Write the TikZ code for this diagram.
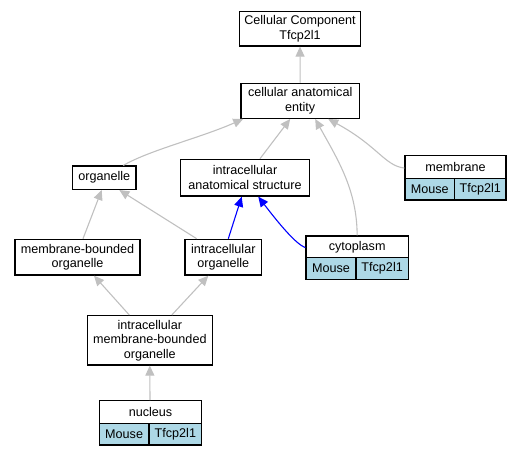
\documentclass[tikz,border=0pt]{standalone}
\usepackage{fontspec}
\setmainfont{Liberation Sans}
\usetikzlibrary{arrows.meta}
\definecolor{edgegray}{HTML}{C0C0C0}
\definecolor{cellblue}{HTML}{ADD8E6}
\tikzset{
  box/.style={draw=black, line width=1.3pt, fill=white, inner sep=0pt, align=center,
    font=\fontsize{12.6}{14.5}\selectfont},
  cell/.style={box, fill=cellblue},
  isa/.style={draw=edgegray, line width=1.1pt, -{Triangle[length=10pt,width=9pt]}},
  partof/.style={draw=blue, line width=1.1pt, -{Triangle[length=10pt,width=9pt]}},
}
\begin{document}
\begin{tikzpicture}[x=1pt,y=-1pt]
\useasboundingbox (0,0) rectangle (523,456);
% nodes
\node[box, minimum width=121.4pt, minimum height=34.3pt] (cc) at (300,28.8) {Cellular Component\\Tfcp2l1};
\node[box, minimum width=118.3pt, minimum height=35pt] (cae) at (300.2,100.8) {cellular anatomical\\entity};
\node[box, minimum width=63.3pt, minimum height=23.3pt] (org) at (104.3,177.7) {organelle};
\node[box, minimum width=128.6pt, minimum height=36.7pt] (ias) at (245,177.7) {intracellular\\anatomical structure};
\node[box, minimum width=125pt, minimum height=35.7pt] (mbo) at (77.5,257.2) {membrane-bounded\\organelle};
\node[box, minimum width=76.7pt, minimum height=35.7pt] (io) at (223.3,257.2) {intracellular\\organelle};
\node[box, minimum width=125pt, minimum height=49.3pt] (imbo) at (149.8,340.3) {intracellular\\membrane-bounded\\organelle};
% membrane table
\node[box, minimum width=101pt, minimum height=22.5pt] (mem) at (455.5,167) {membrane};
\node[cell, minimum width=49.5pt, minimum height=21.7pt] (memA) at (429.75,189.1) {Mouse};
\node[cell, minimum width=51.5pt, minimum height=21.7pt] (memB) at (480.25,189.1) {Tfcp2l1};
% cytoplasm table
\node[box, minimum width=102.3pt, minimum height=21.7pt] (cyt) at (357.15,246.85) {cytoplasm};
\node[cell, minimum width=50pt, minimum height=21.6pt] (cytA) at (331,268.5) {Mouse};
\node[cell, minimum width=52.3pt, minimum height=21.6pt] (cytB) at (382.15,268.5) {Tfcp2l1};
% nucleus table
\node[box, minimum width=102.4pt, minimum height=22.6pt] (nuc) at (150.5,412) {nucleus};
\node[cell, minimum width=49.7pt, minimum height=21.7pt] (nucA) at (124.15,434.15) {Mouse};
\node[cell, minimum width=52.7pt, minimum height=21.7pt] (nucB) at (175.35,434.15) {Tfcp2l1};
% edges
\draw[isa] (cae.north) -- (cc.south);
\draw[isa] ([xshift=19pt]org.north) .. controls (150,150) and (200,138) .. ([xshift=-57pt]cae.south);
\draw[isa] ([xshift=15pt]ias.north) -- ([xshift=-10pt]cae.south);
\draw[isa] ([xshift=0pt]cyt.north) .. controls (357,190) and (338,160) .. ([xshift=15pt]cae.south);
\draw[isa] ([yshift=-1pt]mem.west) .. controls (385,166) and (378,146) .. ([xshift=28pt]cae.south);
\draw[isa] ([xshift=5.5pt]mbo.north) -- ([xshift=-2.6pt]org.south);
\draw[isa] ([xshift=-26.6pt]io.north) -- ([xshift=15pt]org.south);
\draw[partof] ([xshift=5pt]io.north) -- ([xshift=-3.3pt]ias.south);
\draw[partof] ([yshift=-0.8pt]cyt.west) .. controls (296,244) and (280,225) .. ([xshift=13.3pt]ias.south);
\draw[isa] ([xshift=-20.5pt]imbo.north) -- ([xshift=16.5pt]mbo.south);
\draw[isa] ([xshift=22pt]imbo.north) -- ([xshift=-15pt]io.south);
\draw[isa] ([xshift=-0.5pt]nuc.north) -- (imbo.south);
\end{tikzpicture}
\end{document}
